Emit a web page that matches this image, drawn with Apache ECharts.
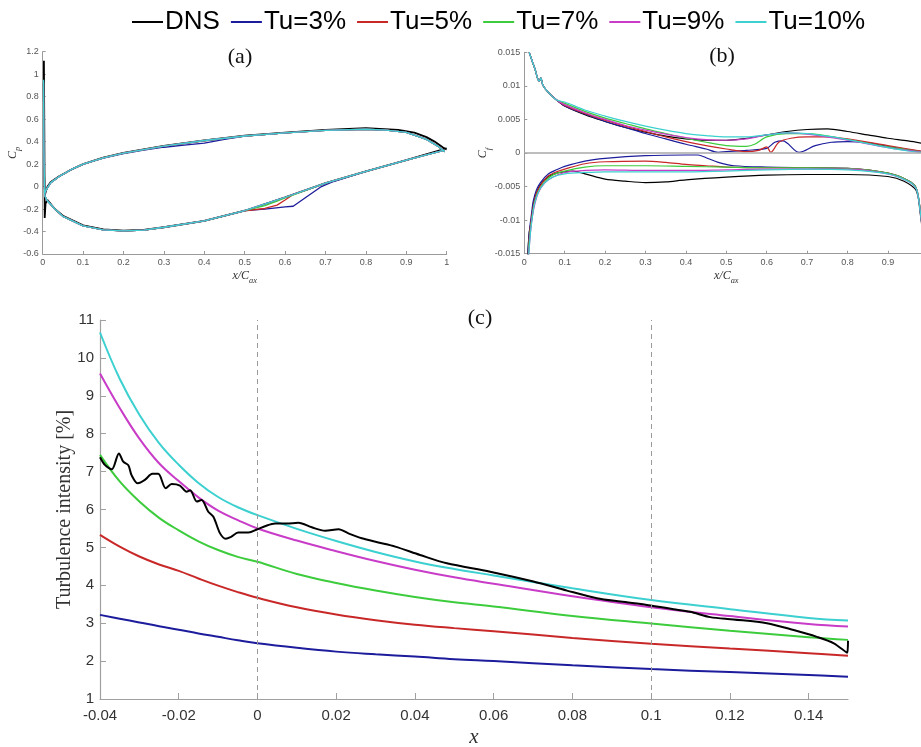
<!DOCTYPE html>
<html>
<head>
<meta charset="utf-8">
<script src="https://cdn.jsdelivr.net/npm/echarts@6/dist/echarts.min.js"></script>
<style>
  html, body { margin: 0; padding: 0; background: #fff; }
  #chart { width: 921px; height: 747px; }
</style>
</head>
<body>
<div id="chart"></div>
<script>
// ---------- series names & colours ----------
const seriesNames = ['DNS', 'Tu=3%', 'Tu=5%', 'Tu=7%', 'Tu=9%', 'Tu=10%'];
const seriesColors = ['#000000', '#1c1c9c', '#c82828', '#3ccc3c', '#c83cc8', '#3cd0d0'];

// ---------- (c) turbulence intensity along x ----------
const tuX = [-0.04, -0.035, -0.03, -0.025, -0.02, -0.015, -0.01, -0.005, 0, 0.01, 0.02, 0.03, 0.04, 0.05, 0.06, 0.08, 0.1, 0.12, 0.14, 0.15];
const tu3  = [3.22, 3.12, 3.02, 2.92, 2.83, 2.73, 2.64, 2.55, 2.47, 2.35, 2.25, 2.18, 2.12, 2.05, 2.00, 1.89, 1.79, 1.71, 1.63, 1.59];
const tu5  = [5.33, 5.02, 4.76, 4.55, 4.38, 4.18, 3.99, 3.82, 3.67, 3.42, 3.23, 3.08, 2.96, 2.87, 2.79, 2.61, 2.46, 2.33, 2.21, 2.14];
const tu7  = [7.44, 6.74, 6.21, 5.78, 5.45, 5.16, 4.93, 4.75, 4.62, 4.30, 4.06, 3.86, 3.69, 3.55, 3.44, 3.19, 2.99, 2.80, 2.63, 2.56];
const tu9  = [9.59, 8.68, 7.87, 7.22, 6.75, 6.32, 5.97, 5.72, 5.50, 5.18, 4.90, 4.64, 4.41, 4.21, 4.04, 3.71, 3.42, 3.19, 2.98, 2.91];
const tu10 = [10.67, 9.45, 8.50, 7.75, 7.18, 6.70, 6.33, 6.06, 5.85, 5.49, 5.17, 4.88, 4.63, 4.43, 4.26, 3.92, 3.61, 3.37, 3.14, 3.07];
const tuDNS = [
  [-0.04, 7.38], [-0.0387, 7.17], [-0.037, 7.06], [-0.0352, 7.48], [-0.0341, 7.26], [-0.0328, 7.17],
  [-0.032, 6.91], [-0.0304, 6.69], [-0.0286, 6.78], [-0.0267, 6.94], [-0.0252, 6.94], [-0.0233, 6.56],
  [-0.0218, 6.67], [-0.0197, 6.63], [-0.018, 6.47], [-0.0171, 6.51], [-0.0154, 6.21], [-0.0142, 6.25],
  [-0.0125, 5.94], [-0.0112, 5.81], [-0.0095, 5.37], [-0.0081, 5.23], [-0.0067, 5.28], [-0.0049, 5.39],
  [-0.0023, 5.39], [0, 5.48], [0.0019, 5.56], [0.0045, 5.63], [0.0074, 5.63], [0.0104, 5.65],
  [0.0138, 5.53], [0.0172, 5.44], [0.0206, 5.48], [0.0231, 5.37], [0.0265, 5.24], [0.0307, 5.13],
  [0.035, 5.02], [0.0413, 4.80], [0.0481, 4.58], [0.0591, 4.36], [0.0701, 4.10], [0.0786, 3.86],
  [0.0862, 3.66], [0.0922, 3.57], [0.0989, 3.48], [0.1057, 3.37], [0.1099, 3.30], [0.115, 3.16],
  [0.1209, 3.10], [0.1294, 3.00], [0.1362, 2.82], [0.1421, 2.64], [0.1464, 2.47], [0.1498, 2.22],
  [0.15, 2.54]
];

// ---------- (a) pressure coefficient Cp vs x/Cax ----------
const cpDNS = [
  [1.0, 0.33], [0.99, 0.35], [0.97, 0.40], [0.95, 0.44], [0.92, 0.48], [0.88, 0.505], [0.8, 0.52],
  [0.7, 0.505], [0.6, 0.48], [0.5, 0.452], [0.4, 0.41], [0.3, 0.362], [0.2, 0.30], [0.15, 0.257],
  [0.1, 0.20], [0.07, 0.15], [0.04, 0.09], [0.02, 0.04], [0.012, 0.0], [0.008, -0.04], [0.005, -0.08],
  [0.004, 0.3], [0.003, 0.8], [0.003, 1.12], [0.004, 0.5], [0.005, -0.28], [0.007, -0.15],
  [0.012, -0.12], [0.03, -0.2], [0.05, -0.26], [0.1, -0.345], [0.15, -0.38], [0.2, -0.392],
  [0.25, -0.385], [0.3, -0.362], [0.4, -0.305], [0.5, -0.215], [0.6, -0.095], [0.7, 0.03],
  [0.8, 0.135], [0.9, 0.235], [1.0, 0.34]
];
const cpTu3 = [
  [0.995, 0.31], [0.98, 0.355], [0.95, 0.42], [0.9, 0.483], [0.85, 0.503], [0.8, 0.51], [0.7, 0.50],
  [0.6, 0.478], [0.5, 0.45], [0.45, 0.42], [0.4, 0.386], [0.35, 0.368], [0.3, 0.35], [0.25, 0.325],
  [0.2, 0.293], [0.15, 0.253], [0.1, 0.2], [0.07, 0.15], [0.04, 0.088], [0.02, 0.035], [0.01, -0.02],
  [0.005, -0.06], [0.003, 0.3], [0.002, 0.92], [0.003, 0.3], [0.005, -0.08], [0.01, -0.12],
  [0.03, -0.2], [0.05, -0.265], [0.1, -0.35], [0.15, -0.385], [0.2, -0.395], [0.25, -0.387],
  [0.3, -0.362], [0.4, -0.305], [0.5, -0.213], [0.55, -0.2], [0.6, -0.18], [0.62, -0.175],
  [0.65, -0.1], [0.69, 0.0], [0.72, 0.045], [0.8, 0.135], [0.9, 0.235], [0.995, 0.325]
];
const cpTu5 = [
  [0.995, 0.31], [0.98, 0.355], [0.95, 0.42], [0.9, 0.483], [0.85, 0.503], [0.8, 0.51], [0.7, 0.50],
  [0.6, 0.478], [0.5, 0.45], [0.4, 0.41], [0.3, 0.36], [0.2, 0.297], [0.15, 0.255], [0.1, 0.2],
  [0.07, 0.15], [0.04, 0.088], [0.02, 0.035], [0.01, -0.02], [0.005, -0.06], [0.003, 0.3],
  [0.002, 0.92], [0.003, 0.3], [0.005, -0.08], [0.01, -0.12], [0.03, -0.2], [0.05, -0.265],
  [0.1, -0.35], [0.15, -0.385], [0.2, -0.395], [0.25, -0.387], [0.3, -0.362], [0.4, -0.305],
  [0.5, -0.215], [0.55, -0.195], [0.58, -0.165], [0.6, -0.12], [0.62, -0.07], [0.65, -0.035],
  [0.7, 0.03], [0.8, 0.135], [0.9, 0.235], [0.995, 0.325]
];
const cpTu7 = [
  [0.995, 0.31], [0.98, 0.355], [0.95, 0.42], [0.9, 0.483], [0.85, 0.503], [0.8, 0.51], [0.7, 0.50],
  [0.6, 0.478], [0.5, 0.45], [0.4, 0.41], [0.3, 0.36], [0.2, 0.297], [0.15, 0.255], [0.1, 0.2],
  [0.07, 0.15], [0.04, 0.088], [0.02, 0.035], [0.01, -0.02], [0.005, -0.06], [0.003, 0.3],
  [0.002, 0.93], [0.003, 0.3], [0.005, -0.08], [0.01, -0.12], [0.03, -0.2], [0.05, -0.265],
  [0.1, -0.35], [0.15, -0.385], [0.2, -0.395], [0.25, -0.387], [0.3, -0.362], [0.4, -0.305],
  [0.5, -0.215], [0.55, -0.17], [0.58, -0.13], [0.6, -0.1], [0.7, 0.03], [0.8, 0.135],
  [0.9, 0.235], [0.995, 0.325]
];
const cpTu9 = [
  [0.995, 0.31], [0.98, 0.355], [0.95, 0.42], [0.9, 0.483], [0.85, 0.503], [0.8, 0.51], [0.7, 0.50],
  [0.6, 0.478], [0.5, 0.45], [0.4, 0.41], [0.3, 0.36], [0.2, 0.297], [0.15, 0.255], [0.1, 0.2],
  [0.07, 0.15], [0.04, 0.088], [0.02, 0.035], [0.01, -0.02], [0.005, -0.06], [0.003, 0.3],
  [0.002, 0.94], [0.003, 0.3], [0.005, -0.08], [0.01, -0.12], [0.03, -0.2], [0.05, -0.265],
  [0.1, -0.35], [0.15, -0.385], [0.2, -0.395], [0.25, -0.387], [0.3, -0.362], [0.4, -0.305],
  [0.5, -0.213], [0.55, -0.155], [0.6, -0.095], [0.7, 0.03], [0.8, 0.135], [0.9, 0.235],
  [0.995, 0.325]
];
const cpTu10 = [
  [0.995, 0.31], [0.98, 0.355], [0.95, 0.42], [0.9, 0.483], [0.85, 0.503], [0.8, 0.51], [0.7, 0.50],
  [0.6, 0.478], [0.5, 0.45], [0.4, 0.41], [0.3, 0.36], [0.2, 0.297], [0.15, 0.255], [0.1, 0.2],
  [0.07, 0.15], [0.04, 0.088], [0.02, 0.035], [0.01, -0.02], [0.005, -0.06], [0.003, 0.3],
  [0.002, 0.95], [0.003, 0.3], [0.005, -0.08], [0.01, -0.12], [0.03, -0.2], [0.05, -0.265],
  [0.1, -0.35], [0.15, -0.385], [0.2, -0.395], [0.25, -0.387], [0.3, -0.362], [0.4, -0.305],
  [0.5, -0.213], [0.55, -0.155], [0.6, -0.095], [0.7, 0.03], [0.8, 0.135], [0.9, 0.235],
  [0.995, 0.325]
];

// ---------- (b) skin friction Cf vs x/Cax (upper and lower branches) ----------
const cfLead = [[0.012, 0.015], [0.02, 0.0136], [0.027, 0.0124], [0.033, 0.0111], [0.037, 0.0107], [0.041, 0.0112], [0.046, 0.0101], [0.06, 0.009], [0.08, 0.0079]];
const cfDNSup = [[0.1, 0.0070], [0.15, 0.0057], [0.2, 0.0047], [0.25, 0.0038], [0.3, 0.0031], [0.35, 0.0025], [0.4, 0.0021], [0.45, 0.0019], [0.5, 0.0019], [0.55, 0.0022], [0.6, 0.0027], [0.65, 0.0032], [0.7, 0.0035], [0.75, 0.0036], [0.8, 0.0032], [0.85, 0.0027], [0.9, 0.0022], [0.95, 0.0018], [1.0, 0.0013]];
const cfTu3up  = [[0.1, 0.0070], [0.15, 0.0058], [0.2, 0.0047], [0.25, 0.0038], [0.3, 0.0029], [0.35, 0.0021], [0.4, 0.0013], [0.45, 0.0006], [0.48, 0.0001], [0.5, 0.0002], [0.55, 0.0004], [0.6, 0.0007], [0.62, 0.0016], [0.64, 0.0018], [0.68, 0.0001], [0.72, 0.0011], [0.76, 0.0016], [0.8, 0.0017], [0.85, 0.0015], [0.9, 0.0010], [0.95, 0.0005], [1.0, 0.0001]];
const cfTu5up  = [[0.1, 0.0071], [0.15, 0.0059], [0.2, 0.0049], [0.25, 0.0040], [0.3, 0.0032], [0.35, 0.0024], [0.4, 0.0017], [0.45, 0.0011], [0.5, 0.0006], [0.55, 0.0002], [0.58, 0.0004], [0.6, 0.0009], [0.61, 0.0001], [0.63, 0.0016], [0.66, 0.0022], [0.7, 0.0024], [0.75, 0.0024], [0.8, 0.0021], [0.9, 0.0011], [1.0, 0.0001]];
const cfTu7up  = [[0.1, 0.0074], [0.15, 0.0062], [0.2, 0.0052], [0.25, 0.0044], [0.3, 0.0036], [0.35, 0.0029], [0.4, 0.0022], [0.45, 0.0016], [0.5, 0.0011], [0.55, 0.0010], [0.57, 0.0013], [0.6, 0.0024], [0.65, 0.0029], [0.7, 0.0029], [0.8, 0.0020], [0.9, 0.0009], [1.0, 0.0000]];
const cfTu9up  = [[0.1, 0.0072], [0.15, 0.0060], [0.2, 0.0050], [0.25, 0.0041], [0.3, 0.0034], [0.35, 0.0028], [0.4, 0.0023], [0.45, 0.0020], [0.5, 0.0019], [0.55, 0.0021], [0.6, 0.0027], [0.65, 0.0030], [0.7, 0.0028], [0.8, 0.0019], [0.9, 0.0008], [1.0, 0.0000]];
const cfTu10up = [[0.1, 0.0076], [0.15, 0.0064], [0.2, 0.0055], [0.25, 0.0047], [0.3, 0.0040], [0.35, 0.0034], [0.4, 0.0029], [0.45, 0.0026], [0.5, 0.0024], [0.55, 0.0024], [0.6, 0.0027], [0.65, 0.0030], [0.7, 0.0029], [0.75, 0.0025], [0.8, 0.0020], [0.85, 0.0014], [0.9, 0.0008], [0.95, 0.0003], [1.0, 0.0000]];

const cfDNSlo  = [[0.008, -0.016], [0.012, -0.012], [0.018, -0.0098], [0.022, -0.0078], [0.03, -0.006], [0.04, -0.0047], [0.06, -0.0035], [0.08, -0.003], [0.1, -0.0028], [0.12, -0.0027], [0.15, -0.0031], [0.2, -0.0039], [0.25, -0.0042], [0.3, -0.0044], [0.35, -0.0043], [0.4, -0.0040], [0.5, -0.0036], [0.6, -0.0033], [0.7, -0.0032], [0.8, -0.0032], [0.9, -0.0035], [0.94, -0.0042], [0.97, -0.0056], [0.98, -0.009], [0.99, -0.014], [1.0, -0.02]];
const cfTu3lo  = [[0.008, -0.016], [0.012, -0.012], [0.018, -0.009], [0.022, -0.0072], [0.03, -0.0055], [0.04, -0.0044], [0.06, -0.0031], [0.08, -0.0025], [0.1, -0.0020], [0.15, -0.0012], [0.2, -0.0008], [0.3, -0.0004], [0.4, -0.0003], [0.43, -0.0003], [0.45, -0.0007], [0.48, -0.0014], [0.52, -0.0019], [0.6, -0.0021], [0.7, -0.0022], [0.8, -0.0023], [0.9, -0.0030], [0.95, -0.0041], [0.97, -0.0052], [0.98, -0.0085], [0.99, -0.014], [1.0, -0.02]];
const cfTu5lo  = [[0.009, -0.016], [0.013, -0.012], [0.019, -0.0092], [0.024, -0.0074], [0.032, -0.0057], [0.045, -0.0044], [0.06, -0.0034], [0.08, -0.0028], [0.1, -0.0024], [0.15, -0.0016], [0.2, -0.0013], [0.3, -0.0012], [0.35, -0.0014], [0.4, -0.0017], [0.45, -0.0019], [0.5, -0.0021], [0.6, -0.0022], [0.7, -0.0022], [0.8, -0.0023], [0.9, -0.0030], [0.95, -0.0041], [0.97, -0.0052], [0.98, -0.0085], [0.99, -0.014], [1.0, -0.02]];
const cfTu7lo  = [[0.009, -0.016], [0.014, -0.012], [0.02, -0.0092], [0.025, -0.0075], [0.034, -0.0058], [0.05, -0.0043], [0.07, -0.0033], [0.1, -0.0027], [0.15, -0.0021], [0.2, -0.0019], [0.3, -0.0019], [0.4, -0.0020], [0.5, -0.0021], [0.6, -0.0022], [0.7, -0.0022], [0.8, -0.0023], [0.9, -0.0030], [0.95, -0.0041], [0.97, -0.0052], [0.98, -0.0085], [0.99, -0.014], [1.0, -0.02]];
const cfTu9lo  = [[0.01, -0.016], [0.015, -0.012], [0.02, -0.0095], [0.026, -0.0076], [0.035, -0.0059], [0.05, -0.0045], [0.07, -0.0036], [0.1, -0.0029], [0.15, -0.0026], [0.2, -0.0025], [0.3, -0.0026], [0.4, -0.0026], [0.5, -0.0025], [0.6, -0.0024], [0.7, -0.0024], [0.8, -0.0024], [0.9, -0.0031], [0.95, -0.0042], [0.97, -0.0053], [0.98, -0.0087], [0.99, -0.014], [1.0, -0.02]];
const cfTu10lo = [[0.01, -0.016], [0.015, -0.012], [0.02, -0.0095], [0.025, -0.0076], [0.035, -0.0058], [0.05, -0.0045], [0.07, -0.0036], [0.1, -0.0031], [0.15, -0.0029], [0.2, -0.0028], [0.3, -0.0028], [0.4, -0.0028], [0.5, -0.0027], [0.6, -0.0025], [0.7, -0.0024], [0.8, -0.0025], [0.9, -0.0031], [0.95, -0.0042], [0.97, -0.0053], [0.98, -0.0087], [0.99, -0.014], [1.0, -0.02]];

// ---------- assemble ----------
const pair = (xs, ys) => xs.map((x, i) => [x, ys[i]]);
const tuValues = [null, tu3, tu5, tu7, tu9, tu10];
const cpValues = [cpDNS, cpTu3, cpTu5, cpTu7, cpTu9, cpTu10];
const cfUp = [cfDNSup, cfTu3up, cfTu5up, cfTu7up, cfTu9up, cfTu10up];
const cfLo = [cfDNSlo, cfTu3lo, cfTu5lo, cfTu7lo, cfTu9lo, cfTu10lo];

function lineSeries(i, axis, data, width, z, smooth) {
  return {
    type: 'line', name: seriesNames[i], xAxisIndex: axis, yAxisIndex: axis,
    data: data, symbol: 'none', showSymbol: false, smooth: smooth, clip: true, z: z,
    lineStyle: { color: seriesColors[i], width: width },
    itemStyle: { color: seriesColors[i] },
    emphasis: { disabled: true }, silent: true
  };
}

const series = [];
// (c) first, so the legend takes its thicker line style
for (let i = 0; i < 6; i++) {
  const d = i === 0 ? tuDNS : pair(tuX, tuValues[i]);
  series.push(lineSeries(i, 2, d, 2, i === 0 ? 4 : 3, i === 0 ? 0.3 : 0.4));
}
// dashed reference lines in (c)
series[1].markLine = {
  silent: true, symbol: 'none', label: { show: false },
  lineStyle: { color: '#9a9a9a', type: [5, 4], width: 1 },
  data: [{ xAxis: 0 }, { xAxis: 0.1 }]
};
// (a)
for (let i = 0; i < 6; i++) series.push(lineSeries(i, 0, cpValues[i], i === 0 ? 1.8 : 1.3, 3, false));
// (b)
for (let i = 0; i < 6; i++) {
  series.push(lineSeries(i, 1, cfLead.concat(cfUp[i]), 1.2, 3, 0.3));
  series.push(lineSeries(i, 1, cfLo[i], 1.2, 3, 0.3));
}
// zero line in (b)
series[12].markLine = {
  silent: true, symbol: 'none', label: { show: false },
  lineStyle: { color: '#a8a8a8', type: 'solid', width: 1.5 },
  data: [{ yAxis: 0 }]
};

const smallAxis = (extra) => Object.assign({
  type: 'value',
  nameMoveOverlap: false,
  axisLine: { show: true, onZero: false, lineStyle: { color: '#9a9a9a', width: 1 } },
  axisTick: { show: true, inside: true, length: 3, lineStyle: { color: '#9a9a9a' } },
  axisLabel: { color: '#555', fontSize: 9, fontFamily: 'Liberation Sans', margin: 4 },
  splitLine: { show: false }
}, extra);

const serifRich = (size) => ({
  i: { fontFamily: 'Liberation Serif', fontStyle: 'italic', fontSize: size, color: '#333', lineHeight: 18, verticalAlign: 'middle' },
  s: { fontFamily: 'Liberation Serif', fontStyle: 'italic', fontSize: size * 0.7, color: '#333', lineHeight: 18, verticalAlign: 'bottom', padding: [6, 0, 0, 0] }
});

const option = {
  animation: false,
  backgroundColor: '#fff',
  legend: {
    data: seriesNames, left: 126, top: 4,
    itemWidth: 31, itemHeight: 14, itemGap: 10,
    textStyle: { fontSize: 26, fontFamily: 'Liberation Sans', color: '#000', padding: [0, 0, 0, -3] },
    itemStyle: { color: 'transparent', borderWidth: 0, opacity: 0 },
    lineStyle: { width: 2 }
  },
  grid: [
    { left: 42.7, top: 51.7, width: 404, height: 202.3, outerBoundsMode: 'none' },
    { left: 524.3, top: 52.3, width: 404, height: 201.4, outerBoundsMode: 'none' },
    { left: 100, top: 320, width: 748, height: 379, outerBoundsMode: 'none' }
  ],
  xAxis: [
    smallAxis({ gridIndex: 0, min: 0, max: 1, interval: 0.1,
      name: '{i|x/C}{s|ax}', nameLocation: 'middle', nameGap: 13, nameTextStyle: { rich: serifRich(12) } }),
    smallAxis({ gridIndex: 1, min: 0, max: 1, interval: 0.1,
      name: '{i|x/C}{s|ax}', nameLocation: 'middle', nameGap: 13, nameTextStyle: { rich: serifRich(12) },
      axisLabel: { color: '#555', fontSize: 9, fontFamily: 'Liberation Sans', margin: 4, showMaxLabel: false } }),
    {
      type: 'value', gridIndex: 2, min: -0.04, max: 0.15, interval: 0.02,
      name: 'x', nameLocation: 'middle', nameGap: 28, nameMoveOverlap: false,
      nameTextStyle: { fontFamily: 'Liberation Serif', fontStyle: 'italic', fontSize: 21, color: '#333' },
      axisLine: { show: true, onZero: false, lineStyle: { color: '#a0a0a0', width: 1.2 } },
      axisTick: { show: true, inside: true, length: 6, lineStyle: { color: '#a0a0a0' } },
      axisLabel: { color: '#333', fontSize: 15, fontFamily: 'Liberation Sans', margin: 9, showMaxLabel: false },
      splitLine: { show: false }
    }
  ],
  yAxis: [
    smallAxis({ gridIndex: 0, min: -0.6, max: 1.2, interval: 0.2,
      name: '{i|C}{s|p}', nameLocation: 'middle', nameGap: 21, nameRotate: 90, nameTextStyle: { rich: serifRich(12) } }),
    smallAxis({ gridIndex: 1, min: -0.015, max: 0.015, interval: 0.005,
      name: '{i|C}{s|f}', nameLocation: 'middle', nameGap: 32, nameRotate: 90, nameTextStyle: { rich: serifRich(12) } }),
    {
      type: 'value', gridIndex: 2, min: 1, max: 11, interval: 1,
      name: 'Turbulence intensity [%]', nameLocation: 'middle', nameGap: 25, nameRotate: 90, nameMoveOverlap: false,
      nameTextStyle: { fontFamily: 'Liberation Serif', fontSize: 20, color: '#333' },
      axisLine: { show: true, onZero: false, lineStyle: { color: '#a0a0a0', width: 1.2 } },
      axisTick: { show: true, inside: true, length: 6, lineStyle: { color: '#a0a0a0' } },
      axisLabel: { color: '#333', fontSize: 15, fontFamily: 'Liberation Sans', margin: 6 },
      splitLine: { show: false }
    }
  ],
  graphic: [
    { type: 'text', x: 240, y: 57, style: { text: '(a)', font: '22px "Liberation Serif"', fill: '#111', align: 'center', verticalAlign: 'middle', textAlign: 'center', textVerticalAlign: 'middle' } },
    { type: 'text', x: 722, y: 56, style: { text: '(b)', font: '22px "Liberation Serif"', fill: '#111', align: 'center', verticalAlign: 'middle', textAlign: 'center', textVerticalAlign: 'middle' } },
    { type: 'text', x: 480, y: 318, style: { text: '(c)', font: '22px "Liberation Serif"', fill: '#111', align: 'center', verticalAlign: 'middle', textAlign: 'center', textVerticalAlign: 'middle' } }
  ],
  series: series
};

const chart = echarts.init(document.getElementById('chart'), null, { renderer: 'canvas' });
chart.setOption(option);
</script>
</body>
</html>
